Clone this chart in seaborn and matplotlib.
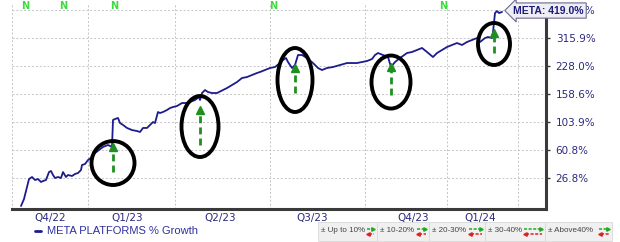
import numpy as np
import pandas as pd
import matplotlib
matplotlib.use("Agg")
import matplotlib.pyplot as plt
import matplotlib.transforms as mtransforms
from matplotlib.patches import Ellipse, Rectangle
from matplotlib.lines import Line2D
import seaborn as sns

# ---------------- data ----------------
days = [9, 12, 15, 17, 20, 23, 26, 29, 31, 34, 37, 39, 41, 43, 46, 49, 51, 54, 56, 60,
        63, 66, 69, 70, 73, 76, 80, 83, 87, 91, 96, 100, 101, 103, 106, 108, 111, 115, 120, 125,
        128, 131, 135, 138, 141, 143, 146, 148, 151, 155, 158, 161, 165, 170, 175, 178, 183, 187, 188, 190,
        193, 196, 200, 205, 211, 215, 220, 225, 230, 235, 240, 245, 248, 253, 258, 263, 268, 271, 274, 276,
        280, 283, 286, 290, 295, 301, 306, 310, 315, 321, 328, 335, 340, 345, 350, 355, 360, 363, 366, 371,
        376, 379, 383, 388, 395, 400, 405, 410, 415, 421, 425, 430, 435, 440, 445, 450, 455, 460, 465, 468,
        473, 476, 480, 481, 483, 485, 487, 490]
growth = [0.0, 6.1, 17.5, 25.7, 27.9, 24.7, 25.7, 22.6, 23.6, 24.7, 33.4, 34.6, 30.1, 26.8, 27.9, 26.8, 33.4, 27.9, 30.1, 29.0,
          31.2, 32.3, 35.7, 41.6, 42.8, 47.7, 51.5, 56.8, 60.8, 65.0, 67.8, 65.0, 107.4, 109.2, 111.0, 102.2, 98.9, 93.9, 90.5, 88.9,
          87.4, 93.9, 93.9, 98.9, 103.9, 102.2, 122.0, 120.1, 122.0, 125.8, 129.6, 131.6, 133.6, 139.6, 139.6, 141.7, 145.8, 152.1, 145.8, 160.8,
          167.5, 163.0, 160.8, 160.8, 167.5, 172.1, 179.1, 186.3, 196.2, 198.7, 203.9, 209.1, 211.7, 217.0, 222.5, 225.2, 236.4, 245.1, 251.0, 239.3,
          222.5, 230.7, 260.1, 260.1, 251.0, 236.4, 222.5, 217.0, 222.5, 225.2, 230.7, 236.4, 236.4, 236.4, 239.3, 242.2, 248.0, 260.1, 266.2, 260.1,
          254.0, 225.2, 239.3, 251.0, 266.2, 269.4, 275.7, 282.2, 269.4, 254.0, 266.2, 275.7, 285.4, 292.0, 298.7, 292.0, 302.1, 309.0, 315.9, 302.1,
          315.9, 319.5, 315.9, 337.6, 414.1, 422.9, 414.1, 419.0]

series_label = "META PLATFORMS % Growth"
current_label = "META: 419.0%"

ytick_values = [26.8, 60.8, 103.9, 158.6, 228.0, 315.9, 427.4]
quarter_grid_days = [0, 76, 163, 258, 353, 435, 506]
quarter_label_days = [38, 115, 208, 300, 401, 468]
quarter_labels = ["Q4/22", "Q1/23", "Q2/23", "Q3/23", "Q4/23", "Q1/24"]

new_high_days = [13, 51, 102, 261, 431]

# breakout highlights: day, arrow base growth, arrow tip growth, ellipse centre growth
breakout_days = [101, 188, 283, 379, 482]
arrow_base = [33.4, 67.8, 160.8, 156.4, 266.2]
arrow_tip = [65.0, 125.8, 222.5, 225.2, 333.9]
ellipse_center = [44.0, 96.3, 191.3, 186.3, 295.4]
ellipse_w = [43, 37, 35, 39, 32]
ellipse_h = [0.162, 0.2248, 0.2358, 0.1953, 0.1548]

legend_bins = ["\u00b1 Up to 10%", "\u00b1 10-20%", "\u00b1 20-30%", "\u00b1 30-40%", "\u00b1 Above40%"]

# ---------------- figure ----------------
sns.set_style("white")
plt.rcParams["font.family"] = ["DejaVu Sans"]

W, H = 620, 242
fig = plt.figure(figsize=(W / 100, H / 100), dpi=100)
fig.patch.set_facecolor("white")
ax = fig.add_axes([12 / W, 33 / H, 534 / W, 205 / H])

df = pd.DataFrame({"day": days, "growth": growth})
navy = "#1c1c8c"
sns.lineplot(data=df, x="day", y="growth", ax=ax, color=navy, lw=1.3, legend=False)


def fwd(g):
    g = np.asarray(g, dtype=float)
    with np.errstate(invalid="ignore", divide="ignore"):
        return np.log10(1 + g / 100)


def inv(t):
    return (10 ** np.asarray(t, dtype=float) - 1) * 100


ax.set_yscale("function", functions=(fwd, inv))
ax.set_ylim(-2.51, 455.1)
ax.set_xlim(0, 534)

# axes styling
ax.set_xlabel("")
ax.set_ylabel("")
for s in ["left", "top"]:
    ax.spines[s].set_visible(False)
for s in ["right", "bottom"]:
    ax.spines[s].set_color("#3a3a3a")
    ax.spines[s].set_linewidth(2.2)

ax.yaxis.tick_right()
ax.set_yticks(ytick_values)
ax.set_yticklabels([f"{v:.1f}%" for v in ytick_values])
ax.tick_params(axis="y", which="major", length=3, width=1, color="#3a3a3a",
               pad=4, labelsize=7.5, labelcolor="#2a2a80")
ax.yaxis.set_minor_locator(matplotlib.ticker.NullLocator())

ax.set_xticks(quarter_grid_days)
ax.set_xticklabels([""] * len(quarter_grid_days))
ax.set_xticks(quarter_label_days, minor=True)
ax.set_xticklabels(quarter_labels, minor=True)
ax.tick_params(axis="x", which="both", length=0, pad=3, labelsize=7.5, labelcolor="#2a2a80")

ax.grid(True, which="major", color="#c4c4c4", linestyle=(0, (2, 2)), linewidth=0.7)
ax.set_axisbelow(True)

# log-space transform for the highlight ellipses
scaled = ax.transLimits + ax.transAxes
for d, c, w, h in zip(breakout_days, ellipse_center, ellipse_w, ellipse_h):
    e = Ellipse((d, float(fwd(c))), w, h, transform=scaled, fill=False,
                ec="black", lw=2.8, zorder=4)
    ax.add_patch(e)

green = "#1f8f1f"
for d, b, t in zip(breakout_days, arrow_base, arrow_tip):
    ax.plot([d, d], [b, t * 0.96], color=green, lw=2, ls=(0, (2.5, 1.5)), zorder=5)
    ax.plot([d], [t], marker="^", color=green, markersize=5.5, zorder=5, clip_on=False)

# new-high markers
blend = mtransforms.blended_transform_factory(ax.transData, ax.transAxes)
for d in new_high_days:
    ax.text(d, 0.99, "N", transform=blend, color="#3ddc3d", fontsize=7,
            fontweight="bold", ha="center", va="center", clip_on=False)

# current value label
ax.annotate(current_label, xy=(days[-1], growth[-1]), xytext=(8, 1),
            textcoords="offset points", ha="left", va="center",
            fontsize=7.5, fontweight="bold", color="#1c1c7a",
            family=["Liberation Sans", "DejaVu Sans"],
            bbox=dict(boxstyle="larrow,pad=0.25", fc="#eeeef4", ec="#6a6a90", lw=0.8),
            annotation_clip=False, zorder=10)

# series legend (bottom left)
def fx(x):
    return x / W


def fy(y):
    return 1 - y / H


fig.add_artist(Line2D([fx(35), fx(41)], [fy(231), fy(231)], color=navy, lw=2))
fig.text(fx(47), fy(231), series_label, fontsize=8, color="#3030a0",
         family=["Liberation Sans", "DejaVu Sans"], va="center", ha="left")

# bins legend (bottom right)
cells = [(318, 377), (377, 429), (429, 485), (485, 545), (545, 612)]
icon_w = [7, 9, 13, 18, 10]
for (x0, x1), lab, iw in zip(cells, legend_bins, icon_w):
    fig.add_artist(Rectangle((fx(x0), fy(241)), fx(x1 - x0), 19 / H,
                             fc="#f0f0f0", ec="#d8d8d8", lw=0.6))
    fig.text(fx(x0 + 3), fy(231), lab, fontsize=5.8, color="#444444",
             family=["Liberation Sans", "DejaVu Sans"], va="center", ha="left")
    ix1 = x1 - 3
    ix0 = ix1 - iw
    fig.add_artist(Line2D([fx(ix0), fx(ix1 - 2)], [fy(228.5), fy(228.5)], color="#22aa22",
                          lw=1.1, ls=(0, (2, 1))))
    fig.add_artist(Line2D([fx(ix1 - 1)], [fy(228.5)], marker=">", color="#22aa22",
                          markersize=2.5, lw=0))
    fig.add_artist(Line2D([fx(ix0 + 2), fx(ix1)], [fy(233.5), fy(233.5)], color="#dd2222",
                          lw=1.1, ls=(0, (2, 1))))
    fig.add_artist(Line2D([fx(ix0 + 1)], [fy(233.5)], marker="<", color="#dd2222",
                          markersize=2.5, lw=0))

fig.savefig("out.png", dpi=100)
